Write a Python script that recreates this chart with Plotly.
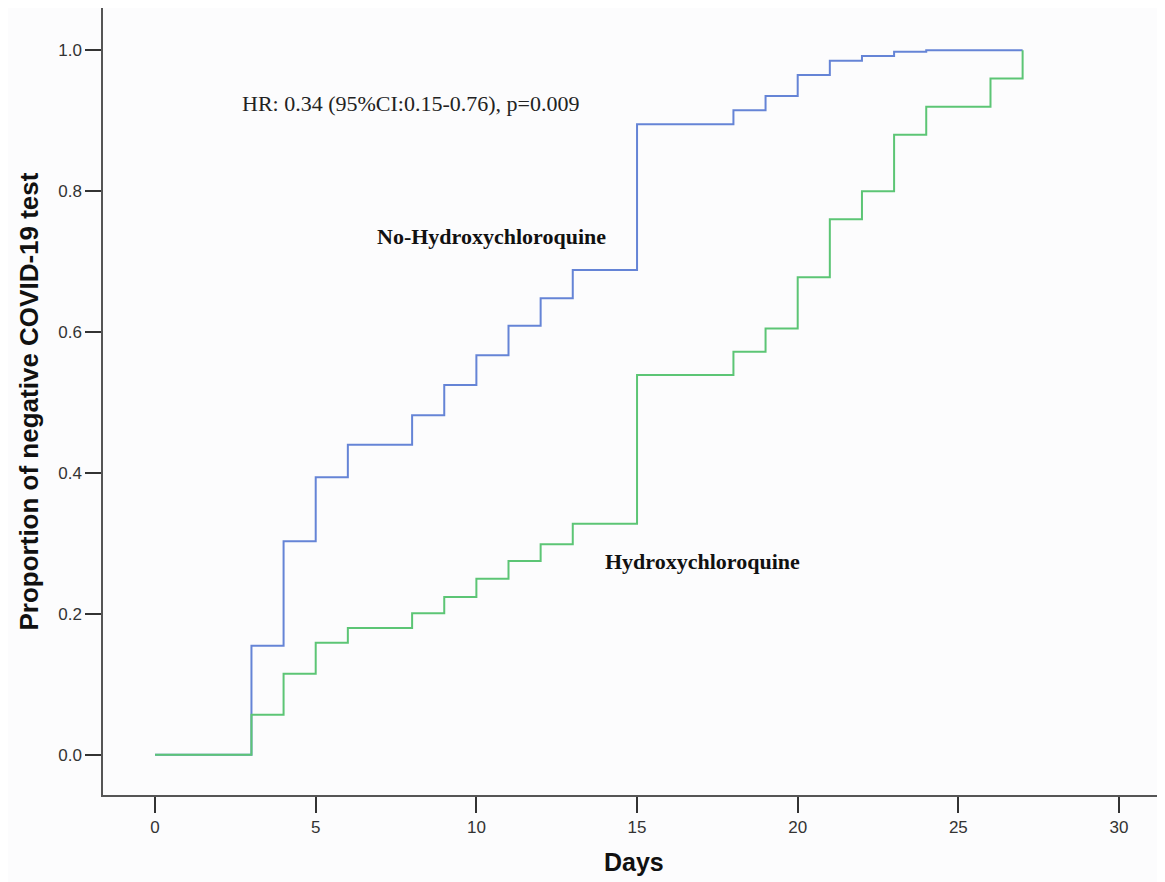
import plotly.graph_objects as go

days = [0, 3, 4, 5, 6, 8, 9, 10, 11, 12, 13, 15, 18, 19, 20, 21, 22, 23, 24, 26, 27]
no_hcq = [0.0, 0.155, 0.303, 0.394, 0.440, 0.482, 0.525, 0.567, 0.609, 0.648, 0.688, 0.895,
          0.915, 0.935, 0.965, 0.985, 0.992, 0.998, 1.0, 1.0, 1.0]
hcq = [0.0, 0.057, 0.115, 0.159, 0.180, 0.201, 0.224, 0.250, 0.275, 0.299, 0.328, 0.539,
       0.572, 0.605, 0.678, 0.760, 0.800, 0.880, 0.920, 0.960, 1.0]

x_ticks = [0, 5, 10, 15, 20, 25, 30]
y_ticks = [0.0, 0.2, 0.4, 0.6, 0.8, 1.0]
y_tick_labels = ["0.0", "0.2", "0.4", "0.6", "0.8", "1.0"]

fig = go.Figure()
fig.add_trace(go.Scatter(x=days, y=no_hcq, mode="lines", line_shape="hv",
                         line=dict(color="#6584d6", width=2), name="No-Hydroxychloroquine"))
fig.add_trace(go.Scatter(x=days, y=hcq, mode="lines", line_shape="hv",
                         line=dict(color="#5cc575", width=2), name="Hydroxychloroquine"))

serif = "Liberation Serif, Times New Roman, serif"
fig.add_annotation(x=2.65, y=0.925, text="HR: 0.34 (95%CI:0.15-0.76), p=0.009",
                   showarrow=False, xanchor="left", yanchor="middle",
                   font=dict(family=serif, size=22, color="#222"))
fig.add_annotation(x=6.85, y=0.735, text="<b>No-Hydroxychloroquine</b>",
                   showarrow=False, xanchor="left", yanchor="middle",
                   font=dict(family=serif, size=22, color="#111"))
fig.add_annotation(x=13.94, y=0.275, text="<b>Hydroxychloroquine</b>",
                   showarrow=False, xanchor="left", yanchor="middle",
                   font=dict(family=serif, size=22, color="#111"))

sans = "Liberation Sans, Arial, sans-serif"
fig.add_annotation(xref="paper", yref="paper", x=0, y=0.5, xshift=-75,
                   text="<b>Proportion of negative COVID-19 test</b>", textangle=-90,
                   showarrow=False, xanchor="center", yanchor="middle",
                   font=dict(family=sans, size=26, color="#111"))
fig.add_annotation(xref="paper", yref="paper", x=0.496, y=0, yshift=-67,
                   text="<b>Days</b>", showarrow=False, xanchor="center", yanchor="middle",
                   font=dict(family=sans, size=25, color="#111"))

fig.update_layout(
    width=1165, height=882,
    margin=dict(l=95, r=0, t=0, b=95),
    paper_bgcolor="#fcfcfd", plot_bgcolor="#fcfcfd",
    showlegend=False,
    xaxis=dict(range=[-1.62, 31.68], tickvals=x_ticks, ticks="outside", ticklen=16,
               tickwidth=1.5, tickcolor="#333", showline=True, linecolor="#555",
               linewidth=1.5, showgrid=False, zeroline=False,
               tickfont=dict(family=sans, size=17, color="#333")),
    yaxis=dict(range=[-0.057, 1.06], tickvals=y_ticks, ticktext=y_tick_labels,
               ticks="outside", ticklen=16, tickwidth=1.5, tickcolor="#333",
               showline=True, linecolor="#555", linewidth=1.5, showgrid=False,
               zeroline=False, tickfont=dict(family=sans, size=17, color="#333")),
)

fig.write_html("out.html")
